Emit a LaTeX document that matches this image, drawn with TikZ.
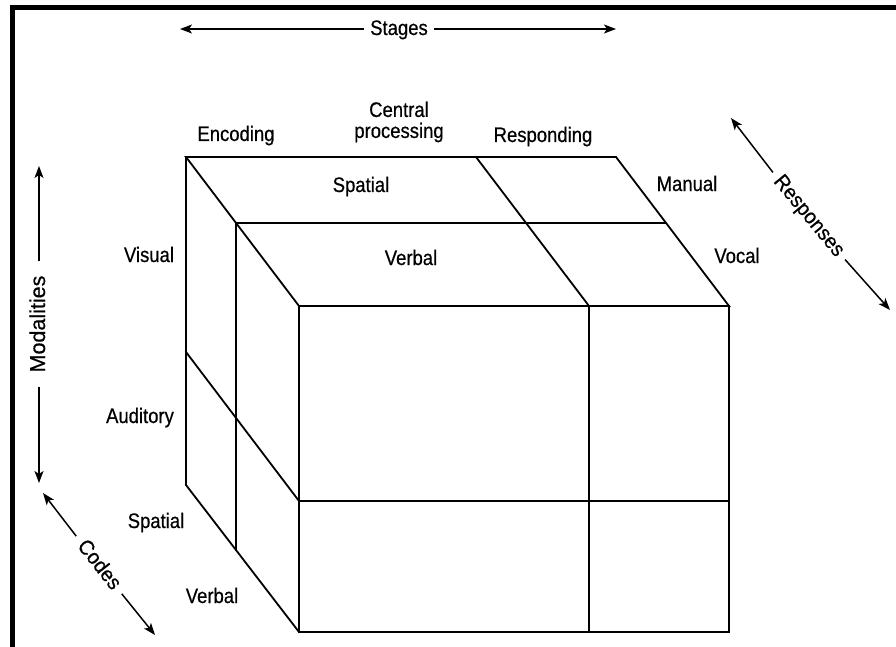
\documentclass[tikz,border=0pt]{standalone}
\usepackage{fontspec}
\setmainfont[FakeBold=0.5]{Liberation Sans}
\newfontfamily\narrowfont[FakeStretch=0.88,FakeBold=0.5]{Liberation Sans}
\newfontfamily\slantfont[FakeStretch=0.94,FakeBold=0.5]{Liberation Sans}
\usetikzlibrary{arrows.meta}
\begin{document}
\begin{tikzpicture}[x=1pt,y=-1pt,
  edge/.style={line width=1.8pt, line join=miter, line cap=rect},
  axis/.style={line width=1.5pt, -{Stealth[length=12pt,width=9pt,inset=3pt]}},
  lbl/.style={font=\narrowfont\fontsize{21}{21}\selectfont, inner sep=0pt, anchor=base},
  axislbl/.style={inner ysep=0pt, text height=15pt, text depth=3pt},
  framebar/.style={fill=black}]
\useasboundingbox (0,0) rectangle (896,647);
\fill[white] (0,0) rectangle (896,647);

% frame along the top and left edges
\fill[framebar] (10,5) rectangle (896,10);
\fill[framebar] (10,5) rectangle (15,647);

% cube corners
\coordinate (btl) at (186,157);
\coordinate (btr) at (616,157);
\coordinate (ftl) at (299,306);
\coordinate (ftr) at (729,306);
\coordinate (bbl) at (186,485);
\coordinate (fbl) at (299,632);
\coordinate (fbr) at (729,632);

% outline
\draw[edge] (ftl) -- (btl) -- (btr) -- (ftr) -- cycle;
\draw[edge] (btl) -- (bbl) -- (fbl);
\draw[edge] (ftl) rectangle (fbr);

% subdivisions: code (top/left faces), stages, modalities
\draw[edge] (236,223) -- (665,223);
\draw[edge] (236,223) -- (236,550);
\draw[edge] (476,157) -- (589,306) -- (589,632);
\draw[edge] (299,501) -- (729,501);
\draw[edge] (186,352) -- (299,501);

% cell labels
\node[lbl] (encoding) at (236,141) {Encoding};
\node[lbl, anchor=center, align=center] (central) at (399,122) {Central\\processing};
\node[lbl] (responding) at (543,142) {Responding};
\node[lbl] (spatialtop) at (361,192) {Spatial};
\node[lbl] (verbaltop) at (411,265) {Verbal};
\node[lbl] (manual) at (687,191) {Manual};
\node[lbl] (vocal) at (737,263) {Vocal};
\node[lbl] (visual) at (149,262) {Visual};
\node[lbl] (auditory) at (140,423) {Auditory};
\node[lbl] (spatialleft) at (156,528) {Spatial};
\node[lbl] (verballeft) at (212,603) {Verbal};

% dimension axes
\node[lbl, axislbl, anchor=center, inner xsep=6pt] (stages) at (399,29) {Stages};
\coordinate (stagesL) at (180,29);
\coordinate (stagesR) at (616,29);
\draw[axis] (stages.west) -- (stagesL);
\draw[axis] (stages.east) -- (stagesR);

\node[axislbl, anchor=center, inner xsep=14pt, rotate=90,
      font=\fontsize{21.5}{21.5}\selectfont] (modalities) at (39,324) {Modalities};
\coordinate (modU) at (39,166);
\coordinate (modD) at (39,483);
\draw[axis] (modalities.east) -- (modU);
\draw[axis] (modalities.west) -- (modD);

\node[axislbl, anchor=center, inner xsep=7pt, rotate=-50.4,
      font=\slantfont\fontsize{21}{21}\selectfont] (responses) at (809,216) {Responses};
\coordinate (respU) at (731,118);
\coordinate (respD) at (890,310);
\draw[axis] (responses.west) -- (respU);
\draw[axis] (responses.east) -- (respD);

\node[axislbl, anchor=center, inner xsep=8pt, rotate=-51.7,
      font=\slantfont\fontsize{21}{21}\selectfont] (codes) at (99,565) {Codes};
\coordinate (codesU) at (43,493);
\coordinate (codesD) at (155,635);
\draw[axis] (codes.west) -- (codesU);
\draw[axis] (codes.east) -- (codesD);
\end{tikzpicture}
\end{document}
